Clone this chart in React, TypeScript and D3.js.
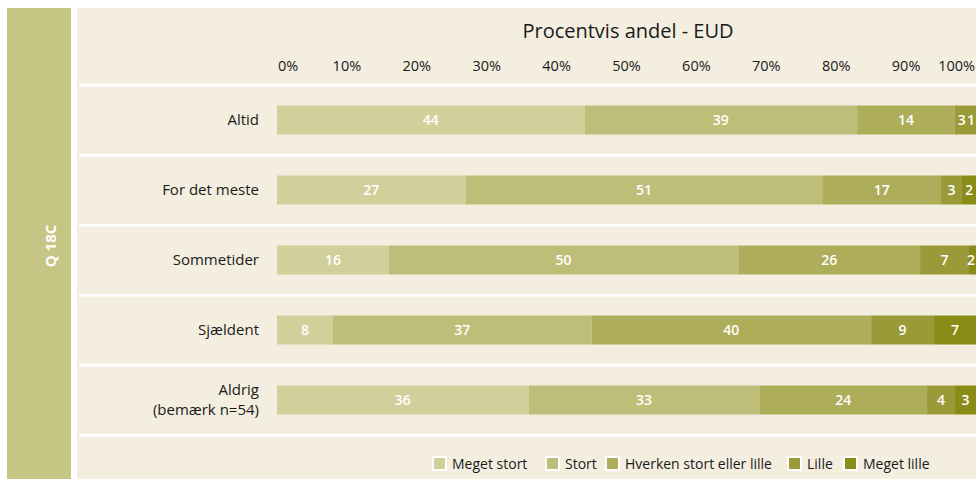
import React from "react";
import * as d3 from "d3";

const categories = ["Altid", "For det meste", "Sommetider", "Sjældent", "Aldrig"];
const categoryLines: string[][] = [["Altid"], ["For det meste"], ["Sommetider"], ["Sjældent"], ["Aldrig", "(bemærk n=54)"]];
const seriesNames = ["Meget stort", "Stort", "Hverken stort eller lille", "Lille", "Meget lille"];
const megetStort = [44, 27, 16, 8, 36];
const stort = [39, 51, 50, 37, 33];
const hverken = [14, 17, 26, 40, 24];
const lille = [3, 3, 7, 9, 4];
const megetLille = [1, 2, 2, 7, 3];
const tickValues = [0, 10, 20, 30, 40, 50, 60, 70, 80, 90, 100];
const title = "Procentvis andel - EUD";
const panelLabel = "Q 18C";

const colors = ["#d1d09a", "#bebe78", "#adad5a", "#9a9b38", "#8a8c18"];
const FONT = "'Open Sans', 'Noto Sans', sans-serif";

export default function App() {
  const W = 976, H = 479;
  const series = [megetStort, stort, hverken, lille, megetLille];
  const x = d3.scaleLinear().domain([0, 100]).range([277, 976]);
  const y = d3.scaleBand().domain(categories).range([85, 435]).paddingInner(0).paddingOuter(0);
  const barH = 29;
  const legendX = [432, 545, 605, 787, 843];
  const labelFont = 14;

  const rows = categories.map((c, ci) => {
    let acc = 0;
    const segs = series.map((s, si) => {
      const v = s[ci];
      const x0 = x(acc);
      acc += v;
      const x1 = Math.min(x(acc), W);
      const w = String(v).length * labelFont * 0.58;
      return { si, v, x0, x1, w, lx: (x0 + x1) / 2 };
    });
    // keep labels within the plot and without overlap (right to left)
    let limit = W - 1;
    for (let i = segs.length - 1; i >= 0; i--) {
      const s = segs[i];
      if (s.lx + s.w / 2 > limit) s.lx = limit - s.w / 2;
      limit = s.lx - s.w / 2 - 1;
    }
    return { c, ci, segs };
  });

  return (
    <svg width={W} height={H} style={{ position: "absolute", left: 0, top: 0 }} fontFamily={FONT}>
      <defs>
        <clipPath id="clip">
          <rect x={77} y={0} width={W - 77} height={H} />
        </clipPath>
      </defs>
      <rect x={0} y={0} width={W} height={H} fill="#ffffff" />
      <rect x={7} y={8} width={64} height={H - 8} fill="#c5c584" />
      <text
        transform={`translate(56,246) rotate(-90)`}
        textAnchor="middle"
        fill="#ffffff"
        fontWeight={700}
        fontSize={15}
      >
        {panelLabel}
      </text>
      <rect x={77} y={8} width={W - 77} height={H - 8} fill="#f3eee0" />
      <text x={628} y={38} textAnchor="middle" fontSize={20} fill="#1a1a1a">
        {title}
      </text>
      {tickValues.map((t, i) => {
        const px = x(t);
        let anchor: "start" | "middle" | "end" = "middle";
        let tx = px;
        if (i === 0) { anchor = "start"; tx = x(0) + 1; }
        if (i === tickValues.length - 1) { anchor = "end"; tx = W - 1; }
        return (
          <text key={t} x={tx} y={71} textAnchor={anchor} fontSize={14.5} fill="#1a1a1a">
            {t + "%"}
          </text>
        );
      })}
      {[85, ...categories.map((c) => (y(c) as number) + y.bandwidth())].map((ly, i) => (
        <rect key={i} x={79} y={ly - 1} width={W - 79} height={2.5} fill="#ffffff" />
      ))}
      {categories.map((c, ci) => {
        const cy = (y(c) as number) + y.bandwidth() / 2;
        const lines = categoryLines[ci];
        return (
          <text key={c} x={259} textAnchor="end" fontSize={15} fill="#1a1a1a">
            {lines.map((l, li) => (
              <tspan key={li} x={259} y={cy + 5 + (li - (lines.length - 1) / 2) * 20}>
                {l}
              </tspan>
            ))}
          </text>
        );
      })}
      <g clipPath="url(#clip)">
        {rows.map(({ c, segs }) => {
          const cy = (y(c) as number) + y.bandwidth() / 2;
          return (
            <g key={c}>
              {segs.map((s) => (
                <rect key={s.si} x={s.x0} y={cy - barH / 2} width={s.x1 - s.x0} height={barH} fill={colors[s.si]} />
              ))}
              {segs.map((s) => (
                <text
                  key={"t" + s.si}
                  x={s.lx}
                  y={cy + 5}
                  textAnchor="middle"
                  fontSize={labelFont}
                  fontWeight={600}
                  fill="#ffffff"
                >
                  {s.v}
                </text>
              ))}
            </g>
          );
        })}
      </g>
      {seriesNames.map((n, i) => (
        <g key={n}>
          <rect x={legendX[i] + 1} y={457} width={13} height={13} fill={colors[i]} stroke="#ffffff" strokeWidth={2} />
          <text x={legendX[i] + 20} y={469} fontSize={14} fill="#1a1a1a">
            {n}
          </text>
        </g>
      ))}
    </svg>
  );
}
